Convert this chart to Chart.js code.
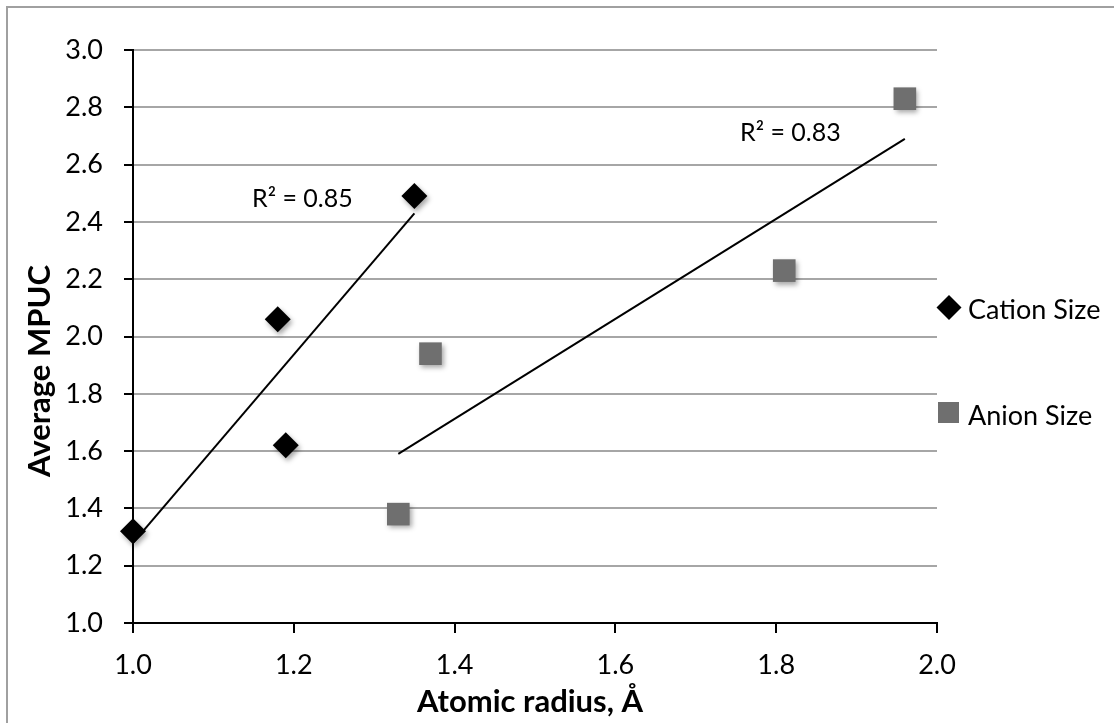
<!DOCTYPE html>
<html>
<head>
<meta charset="utf-8">
<script src="https://cdn.jsdelivr.net/npm/chart.js@4/dist/chart.umd.min.js"></script>
<style>
    body { margin: 0; background: #fff; }
    #wrap { position: relative; width: 1114px; height: 723px; }
</style>
</head>
<body>
<div id="wrap"><canvas id="mpucChart"></canvas></div>
<script>
// Values
const cationX = [1.00, 1.18, 1.19, 1.35];
const cationY = [1.32, 2.06, 1.62, 2.49];
const anionX = [1.33, 1.37, 1.81, 1.96];
const anionY = [1.38, 1.94, 2.23, 2.83];

// Trendline ends (as drawn in the picture)
const cationTrendX = [1.00, 1.35];
const cationTrendY = [1.28, 2.43];
const anionTrendX = [1.33, 1.96];
const anionTrendY = [1.59, 2.69];

const seriesNames = ['Cation Size', 'Anion Size'];
const rSquaredLabels = ['R² = 0.85', 'R² = 0.83'];
const axisTitles = ['Atomic radius, Å', 'Average MPUC'];

const FONT = 'Lato, "Open Sans", sans-serif';

function toPoints(xs, ys) {
    return xs.map((x, i) => ({ x: x, y: ys[i] }));
}

// Frame, titles, R² labels and legend
const decorPlugin = {
    id: 'decor',
    beforeDraw(chart) {
        const ctx = chart.ctx;
        ctx.save();
        ctx.fillStyle = '#fff';
        ctx.fillRect(0, 0, chart.width, chart.height);
        ctx.strokeStyle = '#a0a0a0';
        ctx.lineWidth = 2;
        ctx.beginPath();
        ctx.moveTo(7, chart.height);
        ctx.lineTo(7, 7);
        ctx.lineTo(chart.width, 7);
        ctx.stroke();
        ctx.restore();
    },
    afterDraw(chart) {
        const ctx = chart.ctx;
        const area = chart.chartArea;
        const xs = chart.scales.x;
        const ys = chart.scales.y;
        ctx.save();

        // axis titles
        ctx.fillStyle = '#000';
        ctx.font = 'bold 31px ' + FONT;
        ctx.textAlign = 'center';
        ctx.textBaseline = 'middle';
        ctx.fillText(axisTitles[0], (area.left + area.right) / 2 - 5, 702);
        ctx.save();
        ctx.translate(40, 371);
        ctx.rotate(-Math.PI / 2);
        ctx.fillText(axisTitles[1], 0, 0);
        ctx.restore();

        // R² labels
        ctx.font = '25px ' + FONT;
        ctx.textAlign = 'left';
        ctx.fillText(rSquaredLabels[0], xs.getPixelForValue(1.148), ys.getPixelForValue(2.48));
        ctx.fillText(rSquaredLabels[1], xs.getPixelForValue(1.755), ys.getPixelForValue(2.71));

        // legend
        const lx = area.right + 12;
        ctx.fillStyle = '#000';
        ctx.beginPath();
        ctx.moveTo(lx, 295);
        ctx.lineTo(lx + 12.5, 307.5);
        ctx.lineTo(lx, 320);
        ctx.lineTo(lx - 12.5, 307.5);
        ctx.closePath();
        ctx.fill();
        ctx.fillStyle = '#6f6f6f';
        ctx.fillRect(lx - 11, 402, 21, 21);

        ctx.fillStyle = '#000';
        ctx.font = '27px ' + FONT;
        ctx.fillText(seriesNames[0], area.right + 31, 310);
        ctx.fillText(seriesNames[1], area.right + 31, 416);
        ctx.restore();
    },
    beforeDatasetDraw(chart, args) {
        const ds = chart.data.datasets[args.index];
        if (ds.markerShadow) {
            const ctx = chart.ctx;
            ctx.save();
            ctx.shadowColor = 'rgba(0, 0, 0, 0.35)';
            ctx.shadowBlur = 5;
            ctx.shadowOffsetX = 2;
            ctx.shadowOffsetY = 3;
        }
    },
    afterDatasetDraw(chart, args) {
        const ds = chart.data.datasets[args.index];
        if (ds.markerShadow) {
            chart.ctx.restore();
        }
    }
};

const ctx = document.getElementById('mpucChart').getContext('2d');
const mpucChart = new Chart(ctx, {
    type: 'scatter',
    data: {
        datasets: [{
            label: seriesNames[0],
            data: toPoints(cationX, cationY),
            pointStyle: 'rectRot',
            pointRadius: 13,
            pointHoverRadius: 13,
            backgroundColor: '#000',
            borderColor: '#000',
            borderWidth: 0,
            markerShadow: true,
            clip: false,
            order: 1
        }, {
            label: seriesNames[1],
            data: toPoints(anionX, anionY),
            pointStyle: 'rect',
            pointRadius: 16,
            pointHoverRadius: 16,
            backgroundColor: '#6f6f6f',
            borderColor: '#6f6f6f',
            borderWidth: 0,
            markerShadow: true,
            clip: false,
            order: 1
        }, {
            label: 'Cation trend',
            data: toPoints(cationTrendX, cationTrendY),
            showLine: true,
            pointRadius: 0,
            borderColor: '#000',
            borderWidth: 2,
            clip: false,
            order: 2
        }, {
            label: 'Anion trend',
            data: toPoints(anionTrendX, anionTrendY),
            showLine: true,
            pointRadius: 0,
            borderColor: '#000',
            borderWidth: 2,
            clip: false,
            order: 2
        }]
    },
    options: {
        responsive: true,
        maintainAspectRatio: false,
        animation: false,
        layout: {
            padding: { top: 50, right: 177, left: 0, bottom: 0 }
        },
        plugins: {
            legend: { display: false },
            tooltip: { enabled: false }
        },
        scales: {
            x: {
                type: 'linear',
                min: 1.0,
                max: 2.0,
                afterFit(scale) { scale.height = 100; },
                ticks: {
                    stepSize: 0.2,
                    padding: 16,
                    color: '#000',
                    font: { family: FONT, size: 27 },
                    callback: value => value.toFixed(1)
                },
                grid: {
                    drawOnChartArea: false,
                    drawTicks: true,
                    tickLength: 10,
                    tickColor: '#000',
                    lineWidth: 2
                },
                border: { color: '#000', width: 2 }
            },
            y: {
                type: 'linear',
                min: 1.0,
                max: 3.0,
                afterFit(scale) { scale.width = 133; },
                ticks: {
                    stepSize: 0.2,
                    padding: 21,
                    color: '#000',
                    font: { family: FONT, size: 27 },
                    callback: value => value.toFixed(1)
                },
                grid: {
                    color: '#a6a6a6',
                    lineWidth: 2,
                    drawTicks: true,
                    tickLength: 9,
                    tickColor: '#000'
                },
                border: { color: '#000', width: 2 }
            }
        }
    },
    plugins: [decorPlugin]
});
</script>
</body>
</html>
